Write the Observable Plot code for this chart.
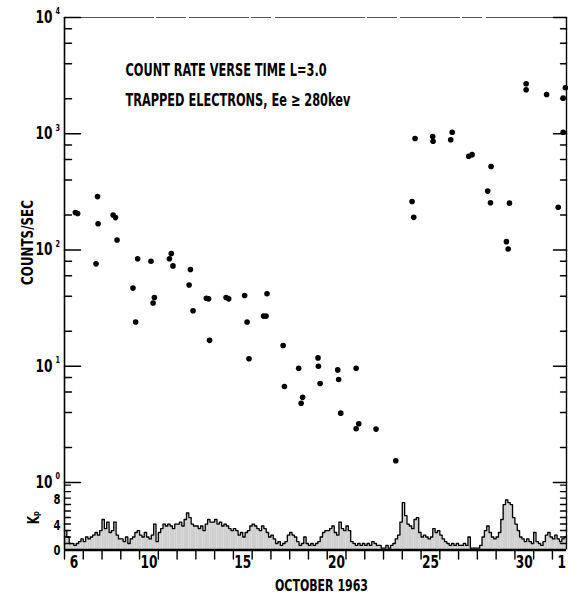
<!DOCTYPE html>
<html><head><meta charset="utf-8">
<script src="https://cdn.jsdelivr.net/npm/d3@7"></script>
<script src="https://cdn.jsdelivr.net/npm/@observablehq/plot@0.6"></script>
<style>
body{margin:0;background:#fff;}
#chart{position:relative;width:568px;height:600px;overflow:hidden;background:#fff;}
#chart svg{position:absolute;left:0;top:0;}
</style></head><body><div id="chart"></div>
<script>
// ---------- data ----------
// count rate samples: day of October 1963 (fractional; 32 = Nov 1) and counts/sec
const rateDay = [6.58, 6.70, 7.68, 7.76, 7.79, 8.59, 8.72, 8.80, 9.65, 9.79, 9.90,
  10.61, 10.72, 10.79, 11.59, 11.69, 11.78, 12.64, 12.71, 12.85, 13.56, 13.68, 13.73,
  14.61, 14.75, 15.60, 15.73, 15.83, 16.61, 16.74, 16.79, 17.65, 17.72, 18.48, 18.61, 18.69,
  19.51, 19.53, 19.62, 20.56, 20.61, 20.72, 21.54, 21.54, 21.68, 22.60, 23.65,
  24.52, 24.61, 24.68, 25.62, 25.64, 26.58, 26.66, 27.54, 27.72, 28.55, 28.70, 28.73,
  29.55, 29.64, 29.71, 30.60, 30.60, 31.69, 32.31, 32.57, 32.57, 32.69];
const rateValue = [210, 206, 76, 288, 168, 200, 190, 122, 47, 24, 84,
  80, 35, 39, 84, 93, 73, 50, 68, 30, 38.5, 38, 16.7,
  39, 38, 40.6, 24, 11.6, 27, 27, 42, 15.1, 6.7, 9.6, 4.8, 5.4,
  11.8, 10.0, 7.1, 9.3, 7.7, 3.95, 9.6, 2.9, 3.2, 2.88, 1.54,
  261, 191, 910, 947, 863, 887, 1030, 641, 661, 321, 255, 523,
  118, 102, 253, 2690, 2390, 2175, 233, 2025, 1030, 2485];

// 3-hourly Kp index, starting Oct 6 00h
const kpStartDay = 6;
const kpValues = [
  3, 2, 1, 1, 0.7, 1, 1.3, 1.7,            // 6
  1.3, 2, 1.7, 2, 2.3, 2.7, 2.3, 3,        // 7
  4.7, 3.3, 4.3, 2.7, 3, 4.3, 2.3, 1.7,    // 8
  1.7, 1.3, 2, 1, 1.7, 2, 2.7, 3,          // 9
  2.3, 2, 2.7, 2, 1.7, 2.3, 4, 1.3,        // 10
  2.7, 3.3, 4, 3.7, 4, 3.7, 3.3, 4,        // 11
  4, 4.3, 3.7, 4.7, 5.7, 5, 4, 3.7,        // 12
  3.7, 3.3, 3.7, 3, 4, 4.7, 4.3, 4.3,      // 13
  4.7, 4, 4.3, 3.7, 4, 3.7, 3.3, 3,        // 14
  3.3, 3, 2.3, 2.7, 2, 2.7, 3, 3.7,        // 15
  4, 3.7, 3.3, 3, 3.7, 3.3, 2.7, 2,        // 16
  2.3, 1.7, 1, 1.3, 0.7, 1, 1.3, 2.3,      // 17
  2.7, 2.3, 2, 1.3, 0.7, 1, 2, 1,          // 18
  0.7, 1, 0.7, 1, 1.3, 2, 2.7, 3,          // 19
  3, 3.3, 3.7, 2.7, 2.3, 4.3, 3.3, 3,      // 20
  3.7, 3, 1.3, 1, 0.7, 1, 0.7, 1,          // 21
  0.7, 1, 0.7, 1.3, 1, 0.7, 0.7, 0.3,      // 22
  0.3, 0.7, 0.3, 0.7, 1, 1.7, 2.3, 4.3,    // 23
  7.3, 5.3, 4, 3.7, 3.3, 4.7, 5, 2.7,      // 24
  2, 2.3, 2, 1.7, 2, 3.3, 2.7, 3,          // 25
  2.3, 1.7, 1.3, 1, 0.7, 1, 0.7, 1,        // 26
  0.7, 0.7, 1, 0.7, 2, 0.3, 0.3, 0.3,      // 27
  0.3, 0.7, 2, 3, 3.7, 2.7, 2, 1.7,        // 28
  2, 2.7, 4.7, 7, 7.7, 7.3, 7, 5,          // 29
  4, 3, 2, 1.7, 1.3, 1.7, 1.3, 1,          // 30
  2.7, 1.3, 1, 0.7, 1.3, 2.3, 2.7, 2,      // 31
  1.7, 2.3, 1.7, 1.3, 1.7, 2               // Nov 1
];

const dayBoundaries = d3.range(6, 33);             // tick marks between days
const dayLabelDays = [6, 10, 15, 20, 25, 30, 32];
const dayLabelText = ["6", "10", "15", "20", "25", "30", "1"];
const decadeExponents = [0, 1, 2, 3, 4];
const minorMantissas = [2, 4, 6, 8];
const kpTickValues = d3.range(1, 11);
const kpLabelValues = [0, 4, 8];

const titleLines = ["COUNT RATE VERSE TIME L=3.0", "TRAPPED ELECTRONS, Ee \u2265 280kev"];
const yTitle = "COUNTS/SEC";
const kpTitle = "K\u209A";
const xTitle = "OCTOBER 1963";

// ---------- build ----------
const FONT = "'Liberation Sans Narrow','DejaVu Sans Condensed','Arial Narrow',sans-serif";
// lettering in the original is narrower than any installed face: squeeze glyphs horizontally
const CONDENSE_DEFAULT = 0.8, CONDENSE_TITLE = 0.7, CONDENSE_XTITLE = 0.74;
const xDomain = [6, 32.75];
const X0 = xDomain[0], X1 = xDomain[1];
const rate = rateDay.map((d, i) => ({day: d, value: rateValue[i]}));
const kp = kpValues.map((v, i) => ({t: kpStartDay + i / 8, kp: v}));
const kpStep = kp.concat([{t: kp[kp.length - 1].t + 1 / 8, kp: kp[kp.length - 1].kp}]);
const majors = decadeExponents.map(e => 10 ** e);
const minors = decadeExponents.slice(0, -1).flatMap(e => minorMantissas.map(m => m * 10 ** e));
const tick = {draw(ctx, l) { ctx.moveTo(0, 0); ctx.lineTo(0, -l); }};
const style = {fontFamily: FONT, background: "transparent", overflow: "visible", color: "black"};

const topPlot = Plot.plot({
  width: 568, height: 600,
  marginLeft: 64, marginRight: 2, marginTop: 17, marginBottom: 118,
  x: {domain: xDomain, axis: null},
  y: {type: "log", domain: [1, 1e4], axis: null},
  style,
  marks: [
    Plot.ruleY([1e4], {x1: X0, x2: X1, stroke: "#555", strokeWidth: 1, strokeDasharray: "90,2,30,3,60,2,20,4"}),
    Plot.ruleX([X0], {y1: 1, y2: 1e4, stroke: "black", strokeWidth: 1.6}),
    Plot.ruleX([X1], {y1: 1, y2: 1e4, stroke: "black", strokeWidth: 1.4}),
    Plot.vector(majors, {x: () => X0, y: d => d, length: 16, rotate: 90, anchor: "start", shape: tick, stroke: "black", strokeWidth: 1.6}),
    Plot.vector(minors, {x: () => X0, y: d => d, length: 7, rotate: 90, anchor: "start", shape: tick, stroke: "black", strokeWidth: 1.4}),
    Plot.vector(majors, {x: () => X1, y: d => d, length: 13, rotate: -90, anchor: "start", shape: tick, stroke: "black", strokeWidth: 1.6}),
    Plot.vector(minors, {x: () => X1, y: d => d, length: 6, rotate: -90, anchor: "start", shape: tick, stroke: "black", strokeWidth: 1.4}),
    Plot.text(decadeExponents, {x: () => X0, y: e => 10 ** e, text: () => "10", textAnchor: "end", dx: -12, dy: 0, fontSize: 17, fontWeight: "bold"}),
    Plot.text(decadeExponents, {x: () => X0, y: e => 10 ** e, text: e => String(e), textAnchor: "start", dx: -9, dy: -6, fontSize: 9, fontWeight: "bold"}),
    Plot.dot(rate, {x: "day", y: "value", r: 2.8, fill: "black", stroke: "none"}),
    Plot.text([titleLines[0]], {frameAnchor: "top-left", dx: 61, dy: 53, textAnchor: "start", lineAnchor: "middle", fontSize: 18, fontWeight: "bold"}),
    Plot.text([titleLines[1]], {frameAnchor: "top-left", dx: 61, dy: 83, textAnchor: "start", lineAnchor: "middle", fontSize: 18, fontWeight: "bold"}),
    Plot.text([yTitle], {frameAnchor: "left", dx: -37, dy: -7.5, rotate: -90, textAnchor: "middle", lineAnchor: "middle", fontSize: 16.5, fontWeight: "bold"})
  ]
});

const botPlot = Plot.plot({
  width: 568, height: 600,
  marginLeft: 64, marginRight: 2, marginTop: 482, marginBottom: 50.5,
  x: {domain: xDomain, axis: null},
  y: {domain: [0, 10.4], axis: null},
  style,
  marks: [
    Plot.rect(kp, {x1: "t", x2: d => d.t + 1 / 8, y1: () => 0, y2: "kp", fill: "#cfcfcf"}),
    Plot.line(kpStep, {x: "t", y: "kp", curve: "step-after", stroke: "black", strokeWidth: 1.3}),
    Plot.ruleY([0], {x1: X0, x2: X1, stroke: "black", strokeWidth: 2.5}),
    Plot.ruleX([X0], {y1: 0, y2: 10.4, stroke: "black", strokeWidth: 1.6}),
    Plot.ruleX([X1], {y1: 0, y2: 10.4, stroke: "black", strokeWidth: 1.4}),
    Plot.vector(dayBoundaries, {x: d => d, y: () => 0, length: 9, rotate: 180, anchor: "start", shape: tick, stroke: "black", strokeWidth: 1.4}),
    Plot.vector(kpTickValues, {x: () => X0, y: d => d, length: 6, rotate: 90, anchor: "start", shape: tick, stroke: "black", strokeWidth: 1.4}),
    Plot.vector(kpTickValues, {x: () => X1, y: d => d, length: 6, rotate: -90, anchor: "start", shape: tick, stroke: "black", strokeWidth: 1.4}),
    Plot.text(kpLabelValues, {x: () => X0, y: d => d, text: d => String(d), textAnchor: "end", dx: -4, dy: 1, fontSize: 14, fontWeight: "bold"}),
    Plot.text(dayLabelDays, {x: d => d + 0.5, y: () => 0, text: (d, i) => dayLabelText[i], dy: 13, lineAnchor: "middle", fontSize: 17, fontWeight: "bold"}),
    Plot.text([xTitle], {frameAnchor: "bottom", dx: 6, dy: 35.5, lineAnchor: "middle", fontSize: 16.5, fontWeight: "bold"}),
    Plot.text([kpTitle], {frameAnchor: "left", dx: -30, dy: 8, rotate: -90, lineAnchor: "middle", fontSize: 15, fontWeight: "bold"})
  ]
});

const chart = document.getElementById("chart");
chart.appendChild(topPlot);
chart.appendChild(botPlot);
chart.querySelectorAll("text").forEach(t => {
  const s = t.textContent;
  const f = titleLines.includes(s) ? CONDENSE_TITLE : s === xTitle ? CONDENSE_XTITLE : CONDENSE_DEFAULT;
  const w = t.getComputedTextLength();
  if (w > 0) {
    t.setAttribute("textLength", (w * f).toFixed(1));
    t.setAttribute("lengthAdjust", "spacingAndGlyphs");
  }
});
</script>
</body></html>
